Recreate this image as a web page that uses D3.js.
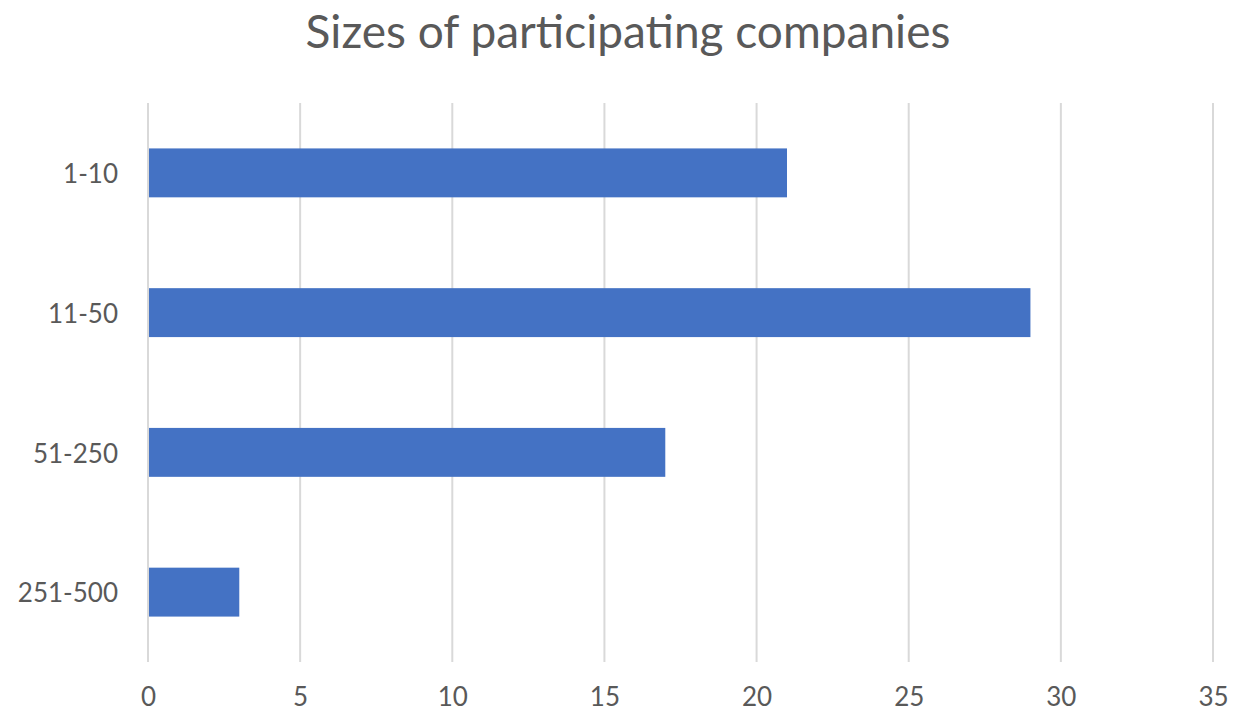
<!DOCTYPE html>
<html>
<head>
<meta charset="utf-8">
<script src="https://cdn.jsdelivr.net/npm/d3@7"></script>
<style>
  body { margin: 0; background: #fff; }
  text { font-family: Lato, "Open Sans", sans-serif; fill: #595959; }
</style>
</head>
<body>
<script>
const categories = ["1-10", "11-50", "51-250", "251-500"];
const counts = [21, 29, 17, 3];
const xTicks = [0, 5, 10, 15, 20, 25, 30, 35];
const title = "Sizes of participating companies";

const width = 1233;
const height = 717;
const margin = {left: 148, right: 20, top: 103, bottom: 55};

const svg = d3.select("body").append("svg")
  .attr("width", width).attr("height", height);

const x = d3.scaleLinear().domain([0, 35]).range([148, 1213]);
const y = d3.scaleBand().domain(categories)
  .range([margin.top, height - margin.bottom])
  .paddingInner(0.65).paddingOuter(0.325);

// gridlines
svg.append("g").selectAll("line").data(xTicks).enter().append("line")
  .attr("x1", d => x(d)).attr("x2", d => x(d))
  .attr("y1", margin.top).attr("y2", height - margin.bottom)
  .attr("stroke", "#d9d9d9").attr("stroke-width", 2);

// bars
svg.append("g").selectAll("rect").data(categories).enter().append("rect")
  .attr("x", x(0) + 1)
  .attr("y", d => y(d))
  .attr("width", (d, i) => x(counts[i]) - x(0) - 1)
  .attr("height", y.bandwidth())
  .attr("fill", "#4472c4");

// x axis labels
const xAxis = d3.axisBottom(x).tickValues(xTicks).tickSize(0).tickPadding(0);
const gx = svg.append("g")
  .attr("transform", `translate(0,${height - 11})`)
  .call(xAxis);
gx.select(".domain").remove();
gx.selectAll("text").attr("dy", 0).attr("y", 0)
  .style("font-size", "26px").style("fill", "#595959");

// y axis labels
const yAxis = d3.axisLeft(y).tickSize(0).tickPadding(0);
const gy = svg.append("g")
  .attr("transform", "translate(118,2)")
  .call(yAxis);
gy.select(".domain").remove();
gy.selectAll("text").style("font-size", "26px").style("fill", "#595959");

// title
const t = svg.append("text")
  .attr("x", 628).attr("y", 48)
  .attr("text-anchor", "middle")
  .style("font-size", "40px")
  .text(title);
const w = t.node().getComputedTextLength();
t.style("font-size", (40 * 645 / w) + "px");
</script>
</body>
</html>
